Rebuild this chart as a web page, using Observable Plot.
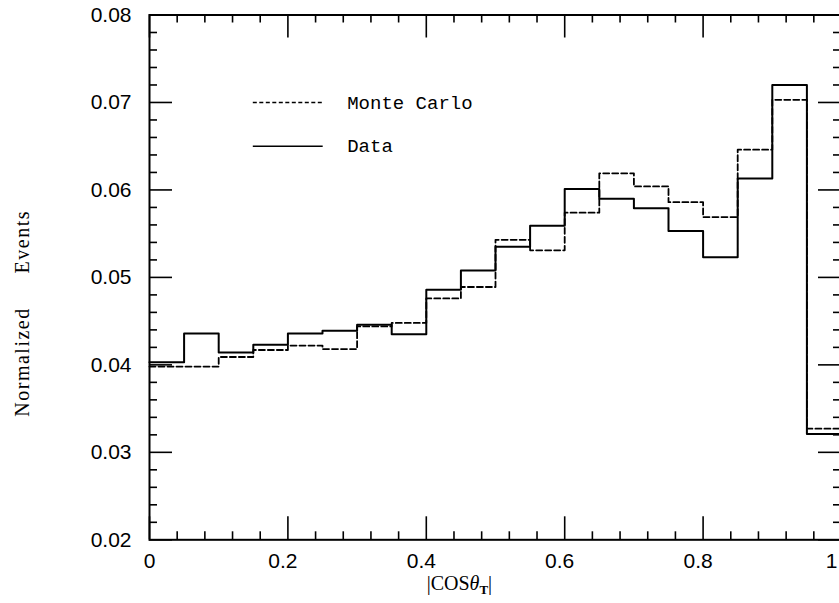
<!DOCTYPE html>
<html><head><meta charset="utf-8">
<script src="https://cdn.jsdelivr.net/npm/d3@7"></script>
<script src="https://cdn.jsdelivr.net/npm/@observablehq/plot@0.6"></script>
<style>html,body{margin:0;padding:0;background:#fff;overflow:hidden}</style>
</head><body><div id="chart"></div>
<script>
// ---- data ----
const binStarts = [0, 0.05, 0.10, 0.15, 0.20, 0.25, 0.30, 0.35, 0.40, 0.45,
                   0.50, 0.55, 0.60, 0.65, 0.70, 0.75, 0.80, 0.85, 0.90, 0.95];
const lastBinEnd = 1.0;
const dataValues = [0.0403, 0.0436, 0.0414, 0.0423, 0.0436, 0.0439, 0.0446, 0.0435, 0.0486, 0.0508,
                    0.0535, 0.0559, 0.0601, 0.0590, 0.0579, 0.0553, 0.0523, 0.0613, 0.0720, 0.0321];
const monteCarloValues = [0.0398, 0.0398, 0.0409, 0.0417, 0.0422, 0.0418, 0.0444, 0.0448, 0.0476, 0.0489,
                          0.0543, 0.0531, 0.0574, 0.0619, 0.0604, 0.0586, 0.0569, 0.0646, 0.0703, 0.0327];
const xMajorTicks = [0, 0.2, 0.4, 0.6, 0.8, 1];
const xTickLabels = ["0", "0.2", "0.4", "0.6", "0.8", "1"];
const yMajorTicks = [0.02, 0.03, 0.04, 0.05, 0.06, 0.07, 0.08];
const yTickLabels = ["0.02", "0.03", "0.04", "0.05", "0.06", "0.07", "0.08"];
const legendLabels = ["Monte Carlo", "Data"];
const yAxisWords = ["Normalized", "Events"];

// ---- layout ----
const W = 839, H = 603, mL = 149, mR = -2, mT = 14.5, mB = 63.7;
const plotW = W - mL - mR, plotH = H - mT - mB;
const majorLen = 23, minorLen = 8;
const near = (a, b) => Math.abs(a - b) < 1e-9;
const xMinorTicks = d3.range(1, 25).map(i => i * 0.04).filter(v => !xMajorTicks.some(m => near(m, v)));
const yMinorTicks = d3.range(1, 30).map(i => 0.02 + i * 0.002).filter(v => !yMajorTicks.some(m => near(m, v)));
const legendX = [0.15, 0.251], legendTextX = 0.2857, legendY = [0.070, 0.065];
const lastIdx = xMajorTicks.length - 1;

const toSteps = vals => binStarts.map((x, i) => ({x, y: vals[i]}))
  .concat([{x: lastBinEnd, y: vals[vals.length - 1]}]);

const tickStyle = {stroke: "black", strokeWidth: 1.6};
const numFont = {fontFamily: "Liberation Sans", fontSize: 21, fill: "black"};

const plot = Plot.plot({
  width: W, height: H,
  marginLeft: mL, marginRight: mR, marginTop: mT, marginBottom: mB,
  x: {domain: [0, 1], axis: null},
  y: {domain: [0.02, 0.08], axis: null},
  style: {background: "white", fontFamily: "Liberation Sans"},
  marks: [
    // ticks, pointing inward on all four sides
    Plot.tickX(xMajorTicks, {x: d => d, insetTop: plotH - majorLen, ...tickStyle}),
    Plot.tickX(xMajorTicks, {x: d => d, insetBottom: plotH - majorLen, ...tickStyle}),
    Plot.tickX(xMinorTicks, {x: d => d, insetTop: plotH - minorLen, ...tickStyle}),
    Plot.tickX(xMinorTicks, {x: d => d, insetBottom: plotH - minorLen, ...tickStyle}),
    Plot.tickY(yMajorTicks, {y: d => d, insetRight: plotW - majorLen, ...tickStyle}),
    Plot.tickY(yMajorTicks, {y: d => d, insetLeft: plotW - majorLen, ...tickStyle}),
    Plot.tickY(yMinorTicks, {y: d => d, insetRight: plotW - minorLen, ...tickStyle}),
    Plot.tickY(yMinorTicks, {y: d => d, insetLeft: plotW - minorLen, ...tickStyle}),
    Plot.frame({stroke: "black", strokeWidth: 2}),
    // histograms
    Plot.line(toSteps(monteCarloValues), {x: "x", y: "y", curve: "step-after",
      stroke: "black", strokeWidth: 1.8, strokeDasharray: "6,3"}),
    Plot.line(toSteps(dataValues), {x: "x", y: "y", curve: "step-after",
      stroke: "black", strokeWidth: 2}),
    // tick labels
    Plot.text(yMajorTicks, {y: d => d, text: (d, i) => yTickLabels[i], frameAnchor: "left",
      textAnchor: "end", dx: -18, ...numFont}),
    Plot.text(xMajorTicks, {x: d => d, text: (d, i) => xTickLabels[i],
      filter: (d, i) => i === 0,
      frameAnchor: "bottom", lineAnchor: "top", dy: 13, ...numFont}),
    Plot.text(xMajorTicks, {x: d => d, text: (d, i) => xTickLabels[i],
      filter: (d, i) => i === lastIdx, textAnchor: "end",
      frameAnchor: "bottom", lineAnchor: "top", dy: 13, dx: -4, ...numFont}),
    Plot.text(xMajorTicks, {x: d => d, text: (d, i) => xTickLabels[i],
      filter: (d, i) => i > 0 && i < lastIdx,
      frameAnchor: "bottom", lineAnchor: "top", dy: 13, dx: -5, ...numFont}),
    // legend
    Plot.ruleY([legendY[0]], {y: d => d, x1: legendX[0], x2: legendX[1],
      stroke: "black", strokeWidth: 1.4, strokeDasharray: "4,2.5"}),
    Plot.ruleY([legendY[1]], {y: d => d, x1: legendX[0], x2: legendX[1],
      stroke: "black", strokeWidth: 1.4}),
    Plot.text(legendLabels, {x: legendTextX, y: (d, i) => legendY[i], text: d => d,
      textAnchor: "start", fontFamily: "Liberation Mono", fontSize: 19, fill: "black"})
  ]
});
document.getElementById("chart").appendChild(plot);

// axis titles
const svg = d3.select(plot);
const serif = "Liberation Serif";
svg.append("text")
  .attr("transform", "translate(28.5,416.7) rotate(-90)")
  .attr("text-anchor", "start")
  .attr("font-family", serif).attr("font-size", 20)
  .attr("letter-spacing", 1.5).attr("fill", "black")
  .text(yAxisWords[0]);
svg.append("text")
  .attr("transform", "translate(28.5,210) rotate(-90)")
  .attr("text-anchor", "end")
  .attr("font-family", serif).attr("font-size", 20)
  .attr("letter-spacing", 1.5).attr("fill", "black")
  .text(yAxisWords[1]);
const xl = svg.append("text")
  .attr("x", 426.7).attr("y", 590)
  .attr("text-anchor", "start")
  .attr("font-family", serif).attr("font-size", 20).attr("fill", "black");
xl.append("tspan").text("|COS");
xl.append("tspan").attr("font-style", "italic").text("θ");
xl.append("tspan").attr("font-size", 13).attr("font-weight", "bold").attr("dy", 4).text("T");
xl.append("tspan").attr("dy", -4).text("|");
</script>
</body></html>
